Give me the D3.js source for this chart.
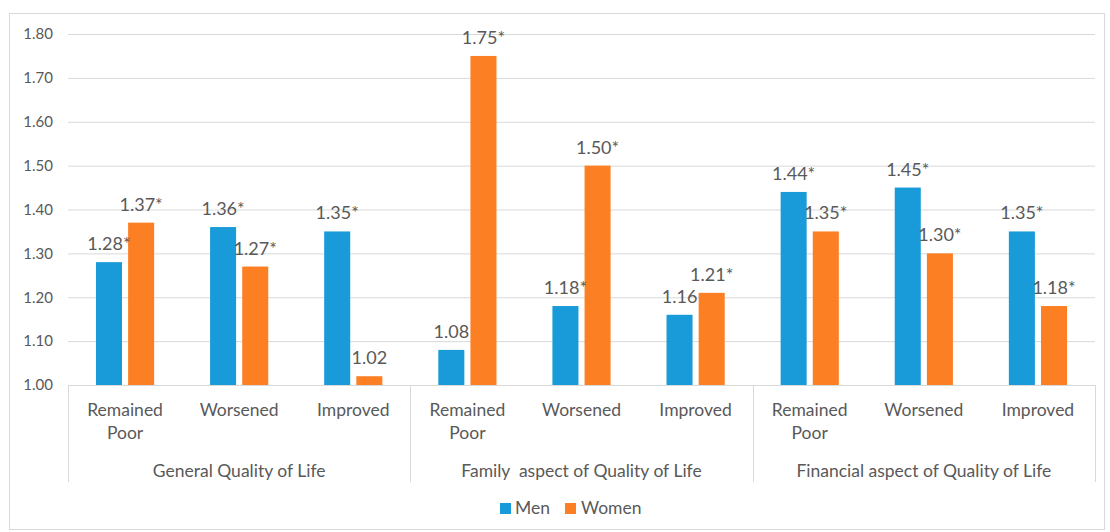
<!DOCTYPE html>
<html><head><meta charset="utf-8">
<script src="https://cdn.jsdelivr.net/npm/d3@7"></script>
<style>body{margin:0;background:#fff}svg{display:block}text{font-family:Lato,"Open Sans",sans-serif;fill:#595959}</style>
</head><body><svg id="c" width="1110" height="532"></svg>
<script>
const groups = ["General Quality of Life","Family  aspect of Quality of Life","Financial aspect of Quality of Life"];
const subcats = ["Remained Poor","Worsened","Improved"];
const seriesNames = ["Men","Women"];
const menValues = [1.28,1.36,1.35, 1.08,1.18,1.16, 1.44,1.45,1.35];
const womenValues = [1.37,1.27,1.02, 1.75,1.50,1.21, 1.35,1.30,1.18];
const menLabels = ["1.28*","1.36*","1.35*","1.08","1.18*","1.16","1.44*","1.45*","1.35*"];
const womenLabels = ["1.37*","1.27*","1.02","1.75*","1.50*","1.21*","1.35*","1.30*","1.18*"];
const yTicks = [1.00,1.10,1.20,1.30,1.40,1.50,1.60,1.70,1.80];
const colors = ["#189bd8","#fd7f23"];

const svg = d3.select("#c");
svg.append("rect").attr("x",9.5).attr("y",13.5).attr("width",1095).attr("height",516).attr("fill","#fff").attr("stroke","#d9d9d9");

const pLeft=68,pRight=1095,pTop=34,pBottom=385;
const y = d3.scaleLinear().domain([1.0,1.8]).range([pBottom,pTop]);
const keys = [];
groups.forEach((g,gi)=>subcats.forEach((s,si)=>keys.push(gi+"-"+si)));
const x = d3.scaleBand().domain(keys).range([pLeft,pRight]).paddingInner(0).paddingOuter(0);
const xs = d3.scaleBand().domain(seriesNames).range([0,x.bandwidth()]).paddingInner(0.19).paddingOuter(0.87);

const yAxis = d3.axisLeft(y).tickValues(yTicks).tickSize(-(pRight-pLeft)).tickFormat(d3.format(".2f"));
const ga = svg.append("g").attr("transform",`translate(${pLeft},0)`).call(yAxis);
ga.select(".domain").remove();
ga.selectAll(".tick line").attr("stroke","#d9d9d9");
ga.selectAll(".tick text").attr("x",-15).style("font-size","15px").attr("fill","#595959");

const data = [];
keys.forEach((k,i)=>{
  data.push({k,s:"Men",v:menValues[i],l:menLabels[i],c:colors[0]});
  data.push({k,s:"Women",v:womenValues[i],l:womenLabels[i],c:colors[1]});
});
svg.append("g").selectAll("rect").data(data).join("rect")
  .attr("x",d=>x(d.k)+xs(d.s)).attr("width",xs.bandwidth())
  .attr("y",d=>y(d.v)).attr("height",d=>y(1.0)-y(d.v)).attr("fill",d=>d.c);
svg.append("g").selectAll("text").data(data).join("text")
  .attr("x",d=>x(d.k)+xs(d.s)+xs.bandwidth()/2).attr("y",d=>y(d.v)-12)
  .attr("text-anchor","middle").style("font-size","18px").text(d=>d.l);

svg.append("line").attr("x1",pLeft).attr("x2",pRight).attr("y1",pBottom+0.5).attr("y2",pBottom+0.5).attr("stroke","#d9d9d9");

const cl = svg.append("g");
keys.forEach((k,i)=>{
  const s = subcats[i%3];
  const cx = x(k)+x.bandwidth()/2;
  const t = cl.append("text").attr("x",cx).attr("y",416).attr("text-anchor","middle").style("font-size","17.5px");
  s.split(" ").forEach((w,wi)=>t.append("tspan").attr("x",cx).attr("dy",wi?23:0).text(w));
});
const gw = (pRight-pLeft)/3;
[0,1,2,3].forEach(i=>{
  const xx = Math.round(pLeft+i*gw)+0.5;
  svg.append("line").attr("x1",xx).attr("x2",xx).attr("y1",pBottom).attr("y2",482).attr("stroke","#d9d9d9");
});
groups.forEach((g,i)=>{
  svg.append("text").attr("x",pLeft+i*gw+gw/2).attr("y",477).attr("text-anchor","middle").style("font-size","17.5px").style("white-space","pre").text(g);
});

const lg = svg.append("g").attr("transform","translate(500,508)");
lg.append("rect").attr("x",0).attr("y",-5).attr("width",11).attr("height",11).attr("fill",colors[0]);
lg.append("text").attr("x",15).attr("y",6).style("font-size","17.5px").text(seriesNames[0]);
lg.append("rect").attr("x",65).attr("y",-5).attr("width",11).attr("height",11).attr("fill",colors[1]);
lg.append("text").attr("x",81).attr("y",6).style("font-size","17.5px").text(seriesNames[1]);
</script></body></html>
